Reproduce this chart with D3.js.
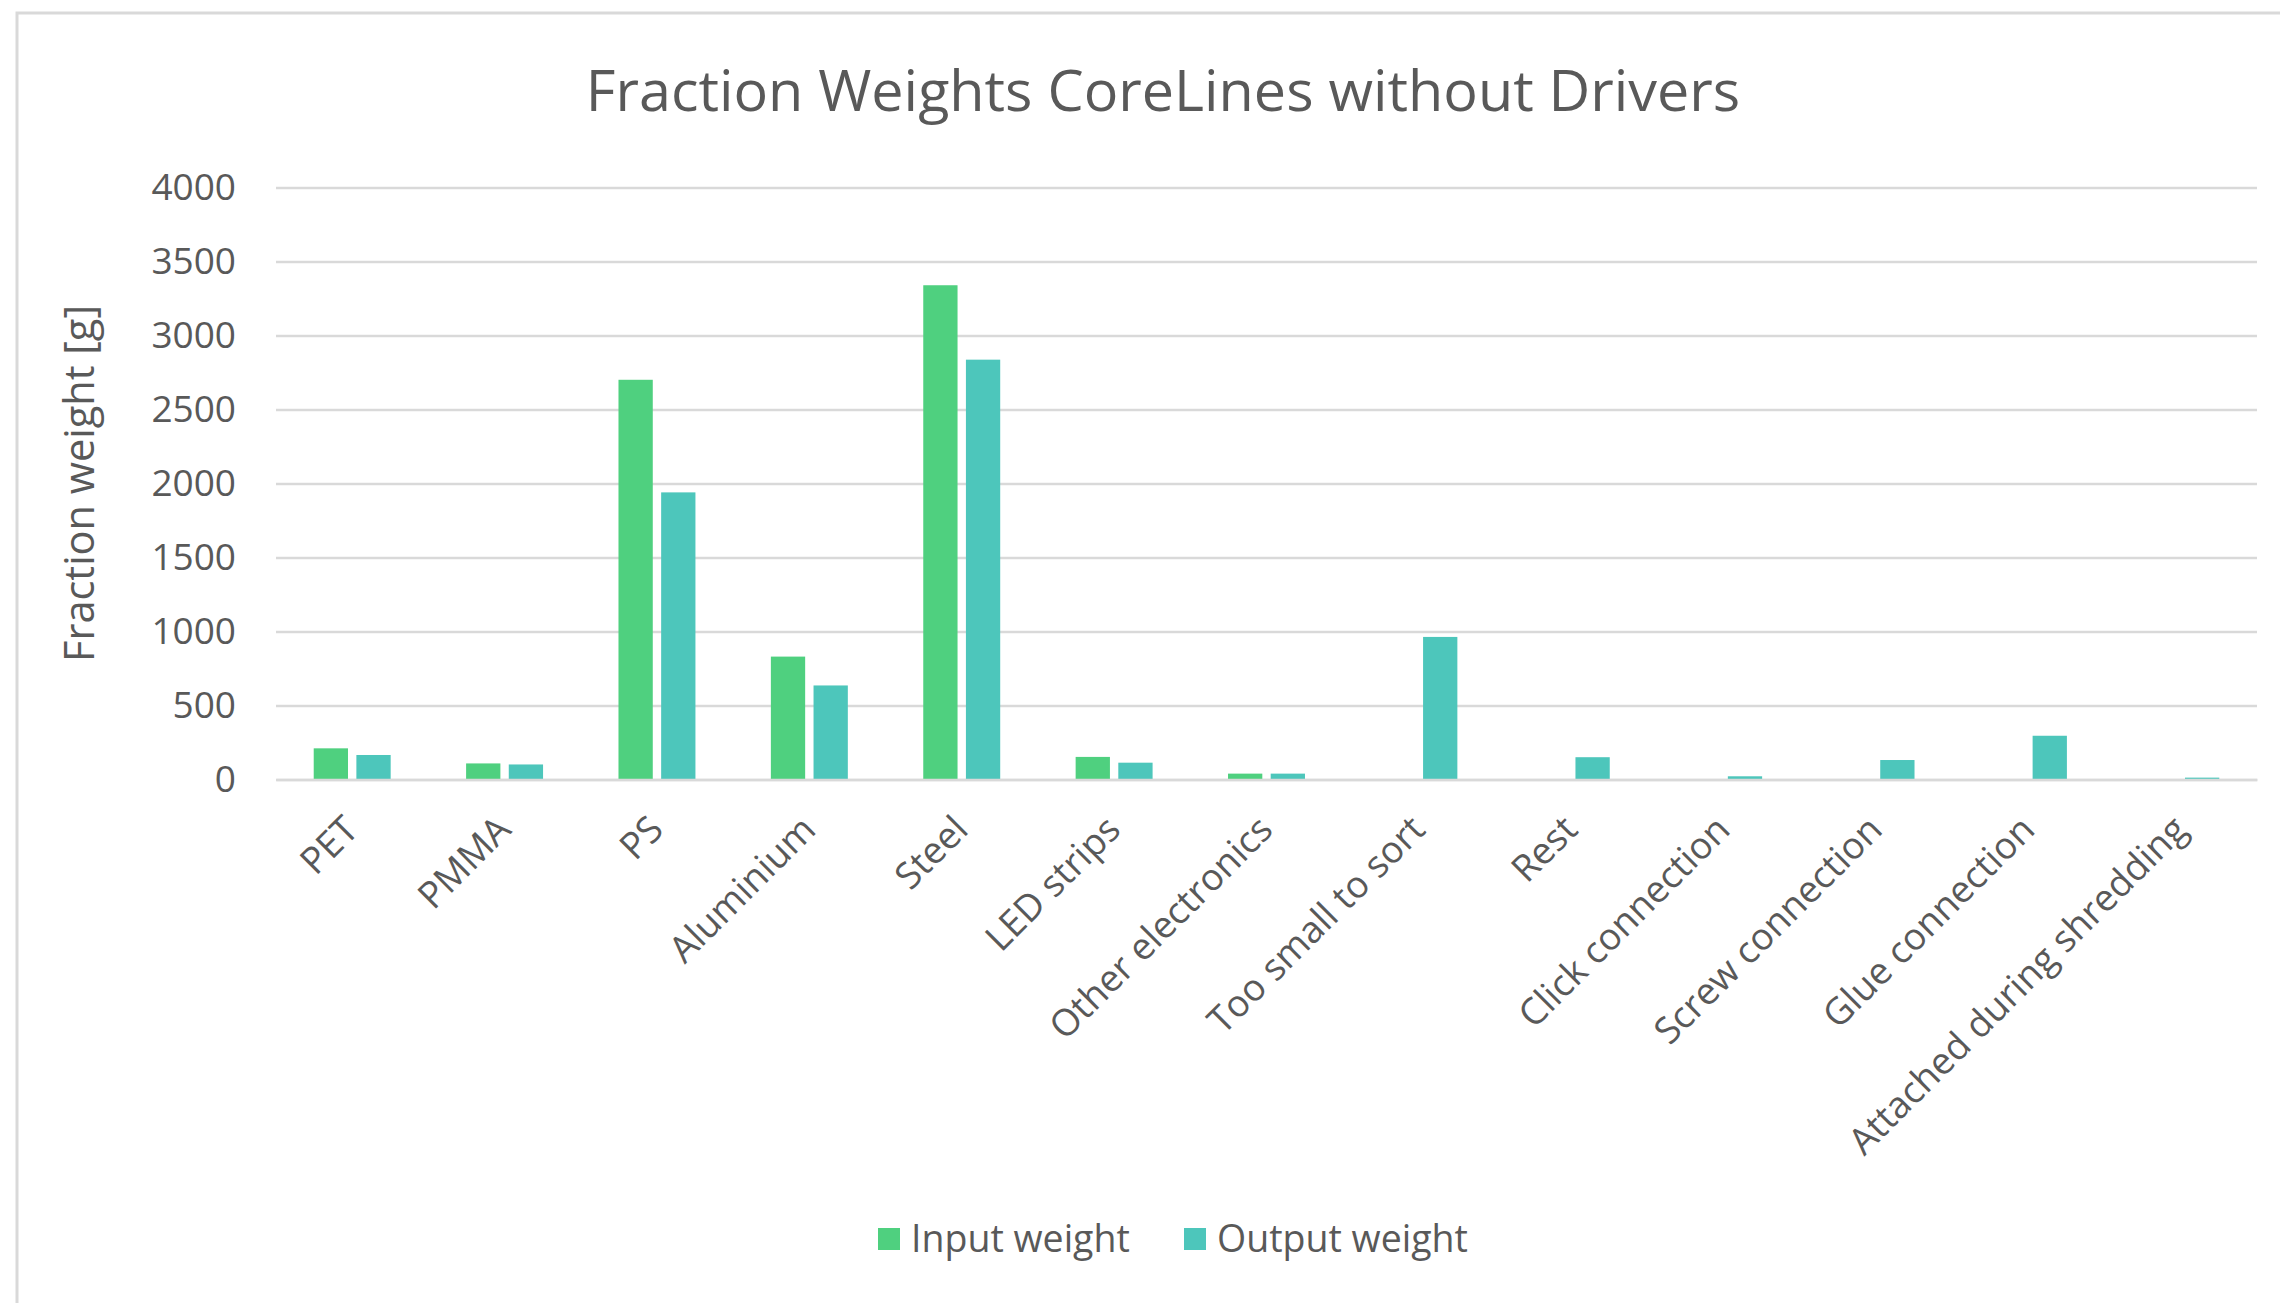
<!DOCTYPE html>
<html>
<head>
<meta charset="utf-8">
<script src="https://cdn.jsdelivr.net/npm/d3@7"></script>
<style>
  html, body { margin: 0; padding: 0; background: #fff; }
  svg { display: block; }
  text { font-family: "Open Sans", "Noto Sans", sans-serif; fill: #595959; }
</style>
</head>
<body>
<svg id="chart" width="2280" height="1303"></svg>
<script>
const categories = ["PET", "PMMA", "PS", "Aluminium", "Steel", "LED strips", "Other electronics",
  "Too small to sort", "Rest", "Click connection", "Screw connection", "Glue connection",
  "Attached during shredding"];
const seriesNames = ["Input weight", "Output weight"];
const inputWeight  = [210, 108, 2701, 830, 3340, 152, 39, 0, 0, 0, 0, 0, 0];
const outputWeight = [165, 101, 1940, 635, 2837, 113, 39, 963, 150, 21, 131, 295, 12];
const yTicks = [0, 500, 1000, 1500, 2000, 2500, 3000, 3500, 4000];
const colors = ["#4fd07f", "#4dc6bb"];

const svg = d3.select("#chart");
const W = 2280, H = 1303;
const plot = { left: 276, right: 2257, top: 187.6, bottom: 779.4 };

// chart frame
svg.append("rect").attr("x", 17).attr("y", 13).attr("width", W + 20).attr("height", H + 20)
  .attr("fill", "#fff").attr("stroke", "#d9d9d9").attr("stroke-width", 3);

const x = d3.scaleBand().domain(categories).range([plot.left, plot.right]).paddingInner(0).paddingOuter(0);
const y = d3.scaleLinear().domain([0, 4000]).range([plot.bottom, plot.top]);

const barW = x.bandwidth() * 0.225;
const gap = x.bandwidth() * 0.055;
const x1 = d3.scaleOrdinal().domain(seriesNames).range([-gap / 2 - barW, gap / 2]);

// gridlines
const yAxis = d3.axisLeft(y).tickValues(yTicks).tickSize(-(plot.right - plot.left)).tickFormat(d3.format("d")).tickPadding(40);
const gy = svg.append("g").attr("transform", `translate(${plot.left},0)`).call(yAxis);
gy.select(".domain").remove();
gy.selectAll(".tick line").attr("stroke", "#d9d9d9").attr("stroke-width", 2.5);
gy.selectAll(".tick text").style("font-size", "37px").attr("fill", "#595959");

// bars
const data = categories.map((c, i) => ({ cat: c, vals: [
  { s: seriesNames[0], v: inputWeight[i] }, { s: seriesNames[1], v: outputWeight[i] }] }));
const groups = svg.append("g").selectAll("g").data(data).join("g")
  .attr("transform", d => `translate(${x(d.cat) + x.bandwidth() / 2},0)`);
groups.selectAll("rect").data(d => d.vals.filter(e => e.v > 0)).join("rect")
  .attr("x", e => x1(e.s)).attr("width", barW)
  .attr("y", e => y(e.v)).attr("height", e => y(0) - y(e.v))
  .attr("fill", e => colors[seriesNames.indexOf(e.s)]);

// x axis
const xAxis = d3.axisBottom(x).tickSize(0).tickPadding(0);
const gx = svg.append("g").attr("transform", `translate(0,${plot.bottom})`).call(xAxis);
gx.select(".domain").attr("stroke", "#d9d9d9").attr("stroke-width", 2.5);
gx.selectAll(".tick text")
  .style("font-size", "37px").attr("fill", "#595959")
  .attr("text-anchor", "end")
  .attr("transform", "translate(-10,34) rotate(-45)")
  .attr("x", 0).attr("y", 0).attr("dy", "0.7em");

// title
svg.append("text").attr("x", 1163).attr("y", 111).attr("text-anchor", "middle")
  .style("font-size", "57.5px").text("Fraction Weights CoreLines without Drivers");

// y title
svg.append("text").attr("transform", `translate(94,${(plot.top + plot.bottom) / 2}) rotate(-90)`)
  .attr("text-anchor", "middle").style("font-size", "41.5px").text("Fraction weight [g]");

// legend
const legendItems = [{ name: seriesNames[0], x: 878 }, { name: seriesNames[1], x: 1184 }];
const lg = svg.append("g").selectAll("g").data(legendItems).join("g")
  .attr("transform", d => `translate(${d.x},1239)`);
lg.append("rect").attr("x", 0).attr("y", -11).attr("width", 22).attr("height", 22)
  .attr("fill", (d, i) => colors[i]);
lg.append("text").attr("x", 33).attr("y", 0).attr("dy", "0.35em").style("font-size", "37.5px").text(d => d.name);
</script>
</body>
</html>
